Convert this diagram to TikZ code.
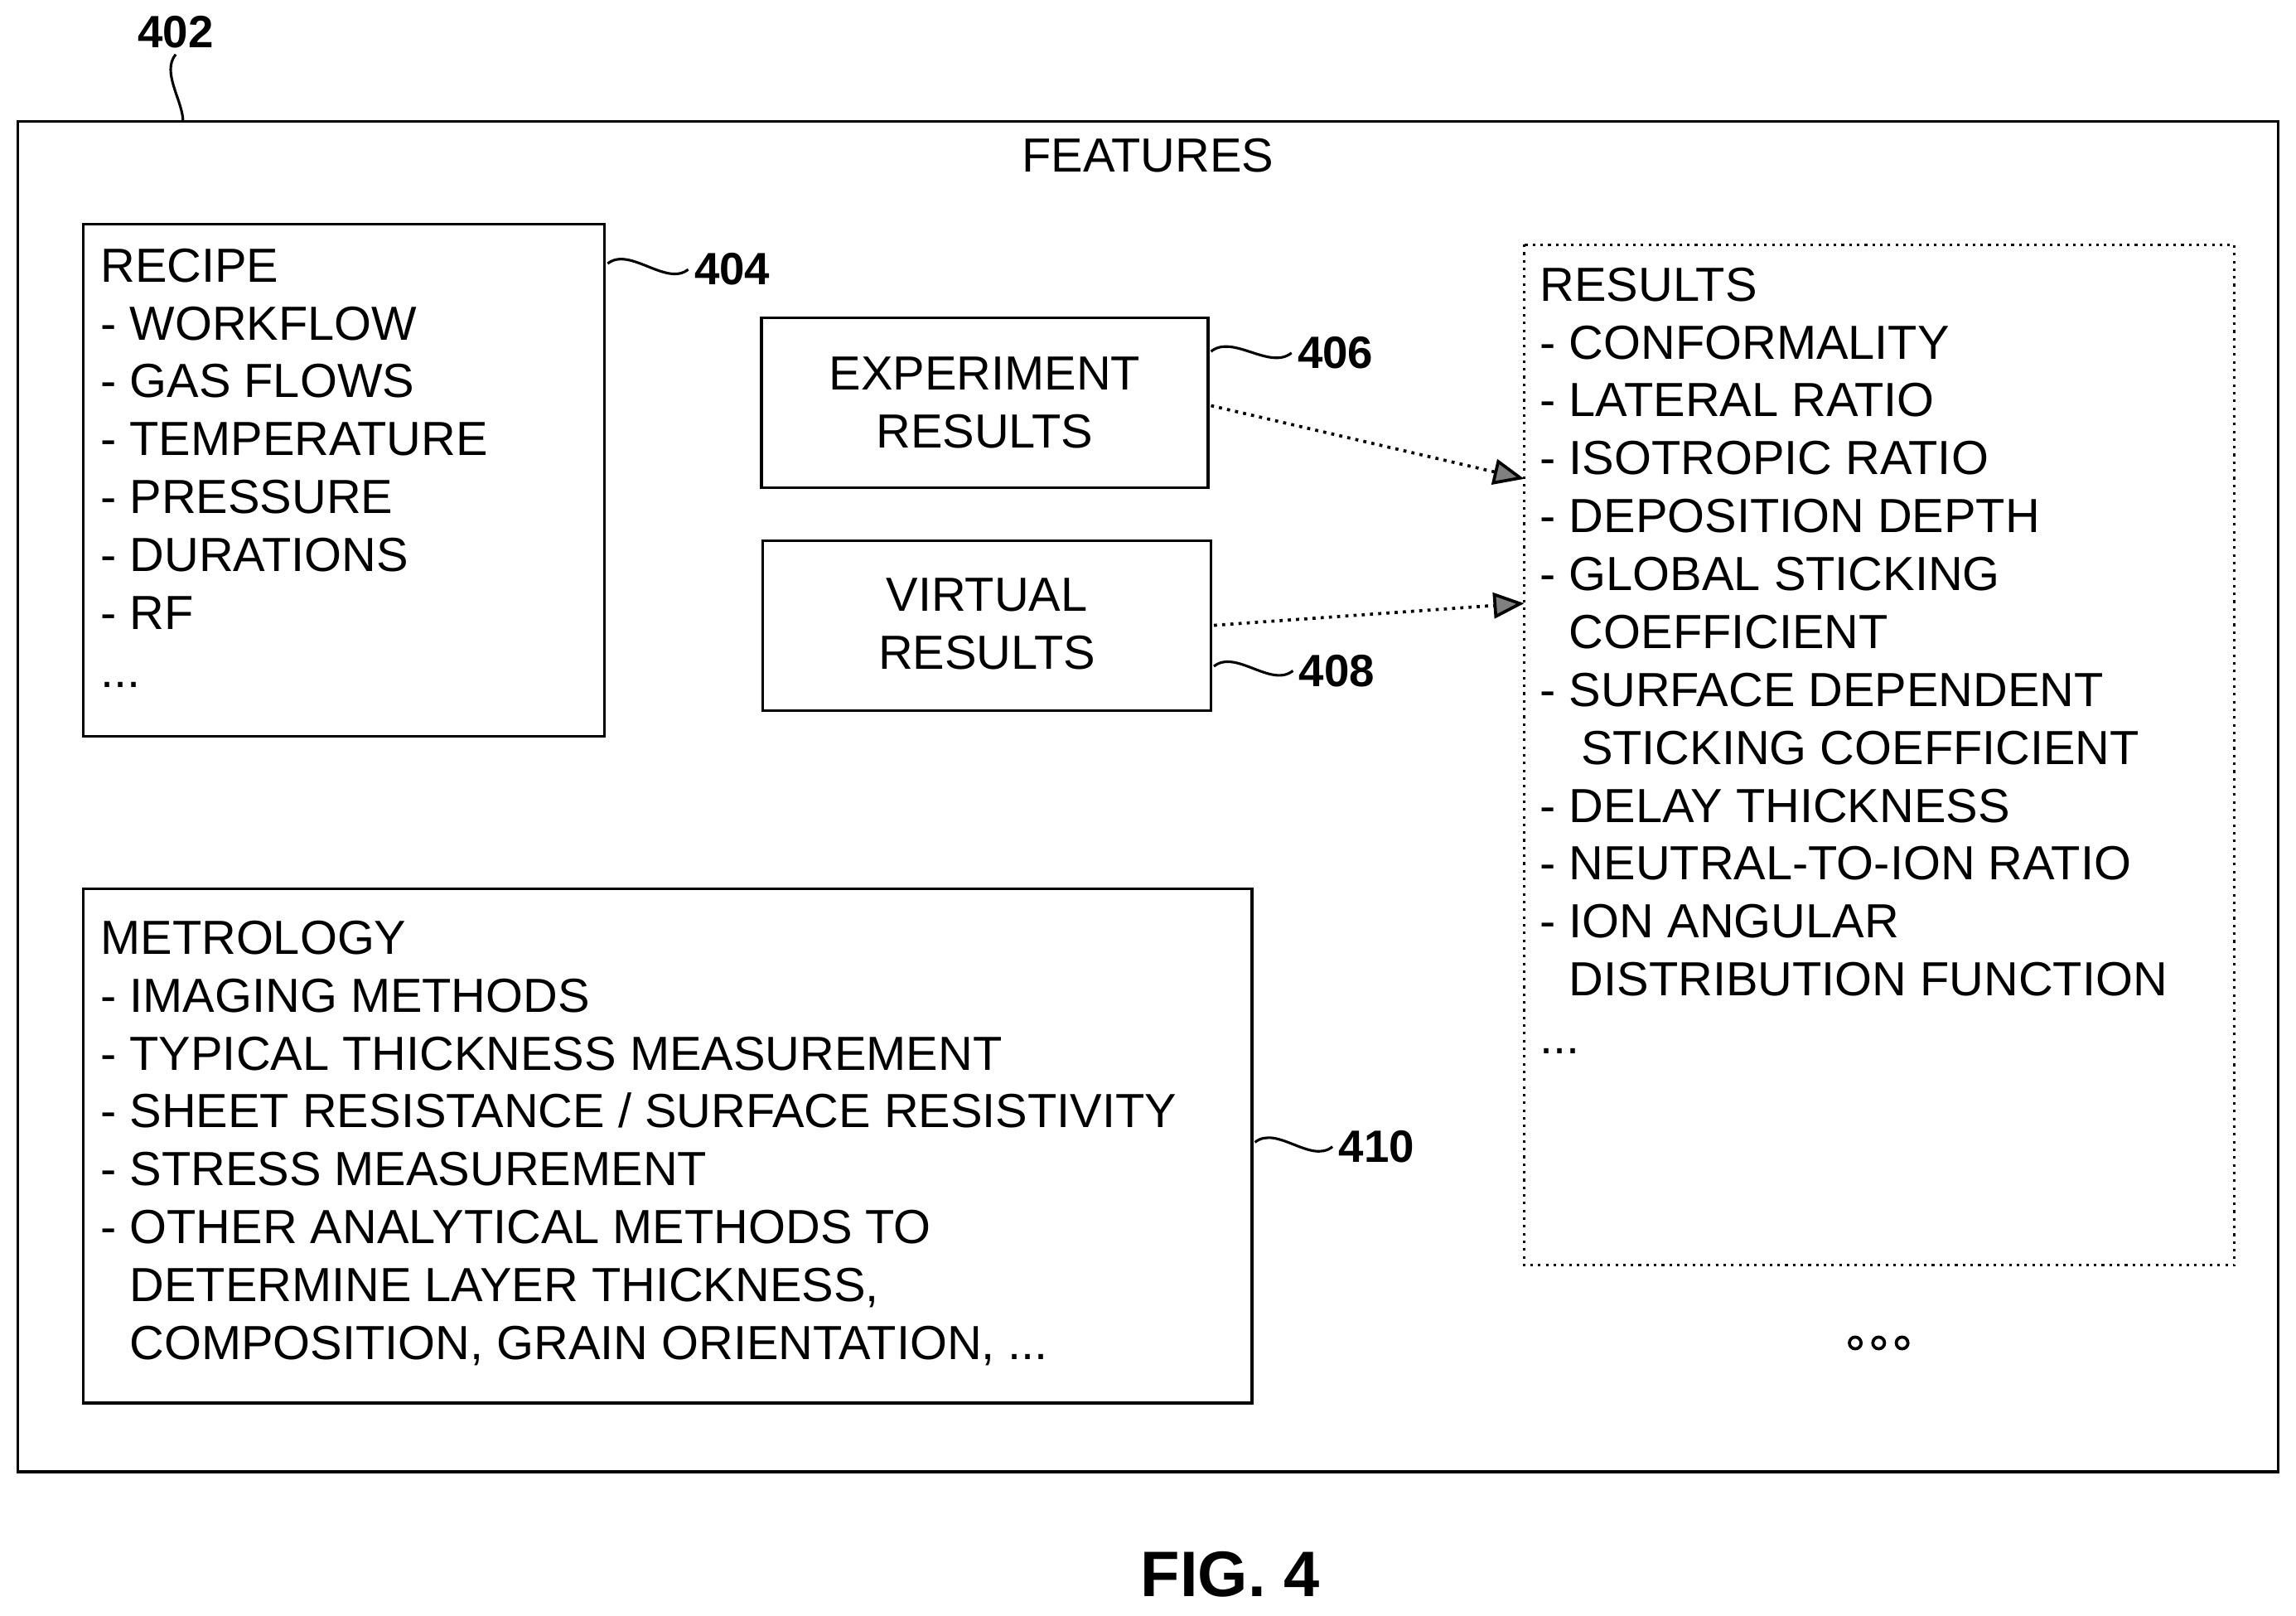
\documentclass[tikz,border=0pt]{standalone}
\usepackage{fontspec}
\setmainfont{Liberation Sans}
\usetikzlibrary{positioning,arrows.meta}

\begin{document}
\begin{tikzpicture}[x=0.1mm,y=-0.1mm,
    box/.style={draw,line width=0.5pt,inner sep=0pt},
    txt/.style={align=left,anchor=north west,inner sep=0pt,font=\fontsize{9.3}{11.25}\selectfont},
    ref/.style={font=\fontsize{8.8}{10}\selectfont\bfseries,inner sep=1pt},
    lead/.style={line width=0.5pt},
    link/.style={densely dotted,line width=0.6pt,-{Triangle[length=6pt,width=5pt,fill=gray]}}]
    % Size of the page
    \useasboundingbox (0,0) rectangle (1568,1103);
    \newcommand\ind{\phantom{- }}

    % Outer frame
    \draw[box] (12,83) rectangle (1556,1005);
    \node[font=\fontsize{9.3}{10}\selectfont] (feat) at (784,106) {FEATURES};
    \node[ref] (n402) at (120,22) {402};
    \coordinate (c402) at (125,83);
    \draw[lead] (n402.south) .. controls +(-10,12) and +(0,-14) .. (c402);

    % Recipe
    \draw[box] (57,153) rectangle (413,503);
    \coordinate (recipe) at (413,180);
    \node[txt] at (68,169) {RECIPE\\- WORKFLOW\\- GAS FLOWS\\- TEMPERATURE\\- PRESSURE\\- DURATIONS\\- RF\\...};
    \node[ref,anchor=west] (n404) at (470,184) {404};
    \draw[lead] (recipe) ++(2,0) .. controls +(15,-12) and +(-15,12) .. (n404.west);

    % Experiment and virtual results
    \draw[box] (520,217) rectangle (825,333);
    \node[align=center,font=\fontsize{9.3}{11.25}\selectfont] (expt) at (672.5,275) {EXPERIMENT\\RESULTS};
    \coordinate (expt-e) at (827,277);
    \node[ref,anchor=west] (n406) at (882,241) {406};
    \draw[lead] (827,240) .. controls +(15,-12) and +(-15,12) .. (n406.west);

    \draw[box] (521,369) rectangle (827,485);
    \node[align=center,font=\fontsize{9.3}{11.25}\selectfont] (virt) at (674,426) {VIRTUAL\\RESULTS};
    \coordinate (virt-e) at (829,427);
    \node[ref,anchor=west] (n408) at (883,458) {408};
    \draw[lead] (829,455) .. controls +(15,-12) and +(-15,12) .. (n408.west);

    % Results
    \draw[box,densely dotted] (1041,167) rectangle (1526,864);
    \node[txt] at (1051,182) {RESULTS\\- CONFORMALITY\\- LATERAL RATIO\\- ISOTROPIC RATIO\\- DEPOSITION DEPTH\\- GLOBAL STICKING\\\ind COEFFICIENT\\- SURFACE DEPENDENT\\\ind\hspace{0.8mm}STICKING COEFFICIENT\\- DELAY THICKNESS\\- NEUTRAL-TO-ION RATIO\\- ION ANGULAR\\\ind DISTRIBUTION FUNCTION\\...};
    \coordinate (res-a) at (1041,327);
    \coordinate (res-b) at (1041,412);
    \draw[link] (expt-e) -- (res-a);
    \draw[link] (virt-e) -- (res-b);
    \foreach \x in {1267,1283,1299}
        \draw[line width=0.6pt] (\x,917) circle (4);

    % Metrology
    \draw[box] (57,607) rectangle (855,958);
    \node[txt] at (68,628) {METROLOGY\\- IMAGING METHODS\\- TYPICAL THICKNESS MEASUREMENT\\- SHEET RESISTANCE / SURFACE RESISTIVITY\\- STRESS MEASUREMENT\\- OTHER ANALYTICAL METHODS TO\\\ind DETERMINE LAYER THICKNESS,\\\ind COMPOSITION, GRAIN ORIENTATION, ...};
    \node[ref,anchor=west] (n410) at (910,783) {410};
    \draw[lead] (857,780) .. controls +(15,-12) and +(-15,12) .. (n410.west);

    \node[font=\fontsize{12.5}{14}\selectfont\bfseries] (fig) at (840,1075) {FIG. 4};
\end{tikzpicture}
\end{document}
